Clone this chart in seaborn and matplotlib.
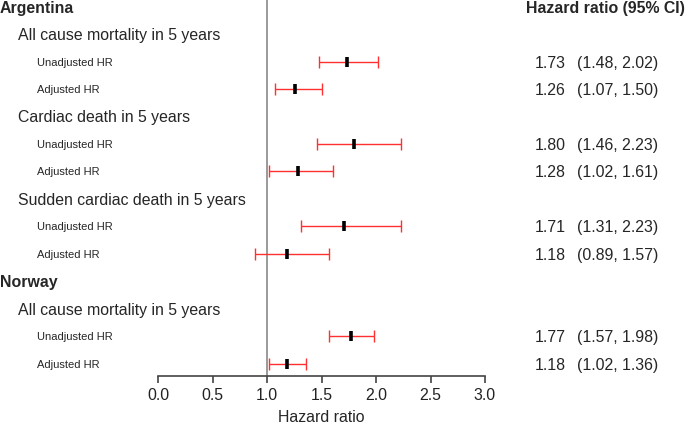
import numpy as np
import matplotlib
matplotlib.use("Agg")
from matplotlib import pyplot as plt
import matplotlib.transforms as mtransforms
import seaborn as sns

# Forest plot: hazard ratios Argentina / Norway

# row structure (label, level); "hr" rows carry an estimate
row_labels = ["Argentina", "All cause mortality in 5 years", "Unadjusted HR", "Adjusted HR",
              "Cardiac death in 5 years", "Unadjusted HR", "Adjusted HR",
              "Sudden cardiac death in 5 years", "Unadjusted HR", "Adjusted HR",
              "Norway", "All cause mortality in 5 years", "Unadjusted HR", "Adjusted HR"]
row_levels = ["country", "outcome", "hr", "hr",
              "outcome", "hr", "hr",
              "outcome", "hr", "hr",
              "country", "outcome", "hr", "hr"]

hr = np.array([1.73, 1.26, 1.80, 1.28, 1.71, 1.18, 1.77, 1.18])
ci_lo = np.array([1.48, 1.07, 1.46, 1.02, 1.31, 0.89, 1.57, 1.02])
ci_hi = np.array([2.02, 1.50, 2.23, 1.61, 2.23, 1.57, 1.98, 1.36])

x_ticks = [0.0, 0.5, 1.0, 1.5, 2.0, 2.5, 3.0]

sns.set_style("white")
plt.rcParams['font.family'] = ['Liberation Sans', 'DejaVu Sans']

W, H = 685, 426
fig = plt.figure(figsize=(W / 100, H / 100), dpi=100)
ax = fig.add_axes([158 / W, (H - 376) / H, 327 / W, 376 / H])

rows = np.arange(len(row_labels))
hr_rows = rows[[lvl == "hr" for lvl in row_levels]]

ax.axvline(1.0, color="#9a9a9a", lw=1.4, zorder=1)
ax.errorbar(hr, hr_rows, xerr=[hr - ci_lo, ci_hi - hr], fmt="none",
            ecolor="#ff3030", elinewidth=1.0, capsize=4.5, capthick=1.0, zorder=2)
sns.scatterplot(x=hr, y=hr_rows, marker="|", s=50, color="black",
                linewidth=2.6, zorder=3, ax=ax)

ax.set_xlim(0, 3)
ax.set_ylim(13.45, -0.24)
ax.set_xticks(x_ticks)
ax.set_xticklabels([f"{t:.1f}" for t in x_ticks])
ax.set_yticks([])
ax.tick_params(axis="x", direction="out", length=5, width=1.2, color="#444444",
               labelsize=11.4, labelcolor="#222222", pad=4, bottom=True)
for side in ["top", "left", "right"]:
    ax.spines[side].set_visible(False)
ax.spines["bottom"].set_color("#444444")
ax.spines["bottom"].set_linewidth(1.2)
ax.set_xlabel("Hazard ratio", fontsize=11.4, labelpad=5)

# left labels and right-hand columns
trans = mtransforms.blended_transform_factory(fig.transFigure, ax.transData)
indent = {"country": 0, "outcome": 18, "hr": 37}
k = 0
for i, (lab, lvl) in enumerate(zip(row_labels, row_levels)):
    if lvl == "country":
        ax.text(indent[lvl] / W, i, lab, transform=trans, fontsize=11.4,
                fontweight="bold", va="center_baseline", clip_on=False)
    elif lvl == "outcome":
        ax.text(indent[lvl] / W, i, lab, transform=trans, fontsize=11.4,
                va="center_baseline", clip_on=False)
    else:
        ax.text(indent[lvl] / W, i, lab, transform=trans, fontsize=8,
                va="center_baseline", clip_on=False)
        ax.text(535 / W, i, f"{hr[k]:.2f}", transform=trans, fontsize=11.4,
                va="center_baseline", clip_on=False)
        ax.text(577 / W, i, f"({ci_lo[k]:.2f}, {ci_hi[k]:.2f})", transform=trans,
                fontsize=11.4, va="center_baseline", clip_on=False)
        k += 1

ax.text(526 / W, 0, "Hazard ratio (95% CI)", transform=trans, fontsize=11.4,
        fontweight="bold", va="center_baseline", clip_on=False)

fig.savefig("out.png", dpi=100)
